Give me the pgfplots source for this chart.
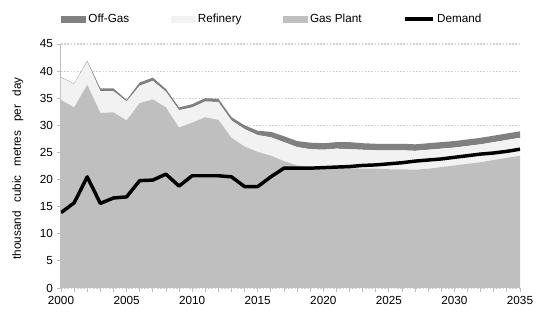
\documentclass[border=0pt]{standalone}
\usepackage{fontspec}
\setmainfont{Liberation Sans}
\usepackage{pgfplots}
\usepackage{pgfplotstable}
\pgfplotsset{compat=1.18}

\definecolor{offgas}{HTML}{808080}
\definecolor{refin}{HTML}{F2F2F2}
\definecolor{gasplant}{HTML}{BFBFBF}
\definecolor{axgray}{HTML}{BFBFBF}
\definecolor{gridgray}{HTML}{D0D0D0}

% year, gas plant, refinery, off-gas, demand (thousand m3/day)
\pgfplotstableread{
year gas  ref off dem
2000 34.7 4.1 0.1 13.9
2001 33.3 4.3 0.1 15.7
2002 37.5 4.2 0.2 20.5
2003 32.3 4.0 0.5 15.6
2004 32.4 3.9 0.5 16.6
2005 30.9 3.5 0.3 16.8
2006 34.1 3.2 0.6 19.8
2007 34.8 3.4 0.6 19.9
2008 33.3 2.9 0.5 21.0
2009 29.6 3.2 0.5 18.8
2010 30.5 2.8 0.6 20.7
2011 31.5 2.9 0.6 20.7
2012 31.0 3.3 0.6 20.7
2013 27.7 3.2 0.6 20.5
2014 26.1 3.2 0.7 18.7
2015 25.1 3.1 0.8 18.7
2016 24.4 3.4 1.0 20.5
2017 23.4 3.5 1.1 22.1
2018 22.6 3.4 1.1 22.1
2019 22.3 3.3 1.2 22.1
2020 22.2 3.3 1.2 22.2
2021 22.2 3.5 1.2 22.3
2022 22.1 3.5 1.3 22.4
2023 22.0 3.5 1.2 22.6
2024 22.0 3.4 1.2 22.7
2025 21.9 3.5 1.2 22.9
2026 21.9 3.5 1.2 23.1
2027 21.8 3.5 1.2 23.4
2028 22.0 3.5 1.2 23.6
2029 22.3 3.4 1.2 23.8
2030 22.6 3.3 1.2 24.1
2031 22.9 3.3 1.2 24.4
2032 23.2 3.3 1.2 24.7
2033 23.6 3.3 1.2 24.9
2034 24.0 3.3 1.2 25.2
2035 24.4 3.3 1.2 25.6
}\supply

\pgfplotsset{chartbox/.style={
    scale only axis,
    width=344.25pt, height=183pt,
    xmin=2000, xmax=2035, ymin=0, ymax=45,
}}

\begin{document}
\fontsize{8.8}{10.5}\selectfont
\begin{tikzpicture}
\begin{axis}[
    chartbox,
    xtick={2000,2005,...,2035},
    minor x tick num=4,
    ytick={0,5,...,45},
    /pgf/number format/assume math mode=true,
    xticklabel style={/pgf/number format/1000 sep={}},
    tick label style={font=\fontsize{8.8}{10.5}\selectfont},
    axis lines*=left,
    axis line style={axgray, line width=0.75pt},
    tick style={axgray, line width=0.6pt},
    tick align=outside,
    major tick length=3pt, minor tick length=3pt,
    ymajorgrids,
    grid style={gridgray, line width=0.9pt, dash pattern=on 1.2pt off 1.2pt},
    ylabel={thousand\hspace{6.5pt}cubic\hspace{6.5pt}metres\hspace{6.5pt}per\hspace{6.5pt}day},
    every axis y label/.style={at={(axis description cs:-0.094,0.49)}, rotate=90, anchor=center},
    stack plots=y,
    legend columns=4,
    legend style={at={(axis description cs:0,1)}, anchor=west, yshift=18.75pt,
        draw=none, fill=none, inner sep=0pt,
        nodes={inner sep=2pt, font=\fontsize{8.8}{10.5}\selectfont},
        /tikz/every even column/.append style={column sep=29pt}},
    legend cell align=left,
]
\coordinate (sw) at (rel axis cs:0,0);
\coordinate (ne) at (rel axis cs:1,1);

\addlegendimage{legend image code/.code={\fill[offgas] (0pt,-2.3pt) rectangle (18pt,2.3pt);}}
\addlegendentry{Off-Gas}
\addlegendimage{legend image code/.code={\fill[refin] (0pt,-2.3pt) rectangle (18pt,2.3pt);}}
\addlegendentry{Refinery}
\addlegendimage{legend image code/.code={\fill[gasplant] (0pt,-2.3pt) rectangle (18pt,2.3pt);}}
\addlegendentry{Gas Plant}
\addlegendimage{legend image code/.code={\draw[black, line width=2.6pt] (0pt,0pt) -- (21pt,0pt);}}
\addlegendentry{Demand}

\addplot[fill=gasplant, draw=none, forget plot] table[x=year, y=gas] {\supply} \closedcycle;
\addplot[fill=refin, draw=none, forget plot] table[x=year, y=ref] {\supply} \closedcycle;
\addplot[fill=offgas, draw=none, forget plot] table[x=year, y=off] {\supply} \closedcycle;
\end{axis}

% demand line, unstacked, on the same box
\begin{axis}[chartbox, hide axis]
\addplot[black, line width=2.6pt, line join=round] table[x=year, y=dem] {\supply};
\end{axis}
\path ([shift={(-45.75pt,-21.75pt)}]sw) rectangle ([shift={(20.25pt,33pt)}]ne);
\end{tikzpicture}
\end{document}
